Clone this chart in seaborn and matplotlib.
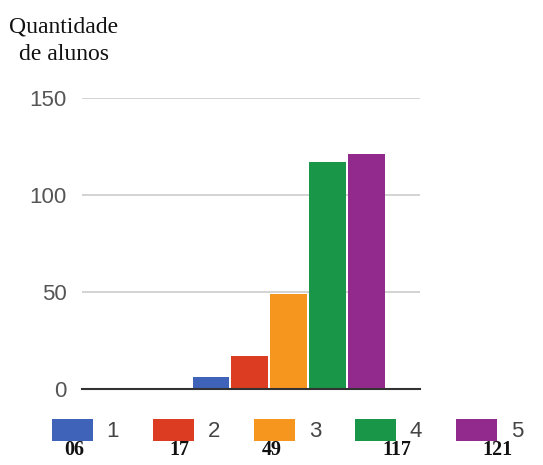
import matplotlib
matplotlib.use("Agg")
import matplotlib.pyplot as plt
import seaborn as sns
import pandas as pd

categories = ["1", "2", "3", "4", "5"]
values = [6, 17, 49, 117, 121]
count_labels = ["06", "17", "49", "117", "121"]
colors = ["#3f63b8", "#dc3c22", "#f7961e", "#1a9648", "#922a8e"]
yticks = [0, 50, 100, 150]

sns.set_theme(style="white")
plt.rcParams["font.family"] = ["Liberation Sans", "DejaVu Sans"]

df = pd.DataFrame({"cat": categories, "val": values})

fig = plt.figure(figsize=(5.43, 4.65), dpi=100)
ax = fig.add_axes([82 / 543, 1 - 389 / 465, (420 - 82) / 543, (389 - 98) / 465])

sns.barplot(data=df, x="cat", y="val", hue="cat", palette=colors,
            width=0.95, saturation=1, ax=ax, legend=False, edgecolor="none")

ax.set_xlim(-3.33, 5.39)
ax.set_ylim(0, 150)
ax.set_yticks(yticks)
ax.set_yticklabels([str(t) for t in yticks], color="#555555", fontsize=16)
ax.tick_params(axis="y", length=0, pad=11)
ax.set_xticks([])
ax.set_xlabel("")
ax.set_ylabel("")
ax.grid(axis="y", color="#cccccc", linewidth=1.2)
ax.set_axisbelow(True)
for s in ["top", "right", "left"]:
    ax.spines[s].set_visible(False)
ax.spines["bottom"].set_color("#333333")
ax.spines["bottom"].set_linewidth(1.5)
ax.spines["bottom"].set_zorder(5)

# legend
handles = [matplotlib.patches.Patch(facecolor=c, edgecolor="none") for c in colors]
fig.legend(handles, categories, loc="center left",
           bbox_to_anchor=(52 / 543, 1 - 430.5 / 465), ncol=5, frameon=False,
           fontsize=16, handlelength=1.85, handleheight=1.13, handletextpad=0.6,
           columnspacing=1.54, borderpad=0, borderaxespad=0,
           labelcolor="#444444")

# counts below legend
count_x = [74, 179, 272, 397, 497]
for x, lab in zip(count_x, count_labels):
    fig.text(x / 543, 1 - 450 / 465, lab, ha="center", va="center",
             fontsize=14.5, fontweight="bold", family=["Liberation Serif"],
             color="#111111")

# y-axis title
fig.text(64 / 543, 1 - 16 / 465, "Quantidade\nde alunos", ha="center", va="top",
         multialignment="center", fontsize=17, family=["Liberation Serif"],
         color="#111111", linespacing=1.45)

fig.savefig("out.png", dpi=100)
